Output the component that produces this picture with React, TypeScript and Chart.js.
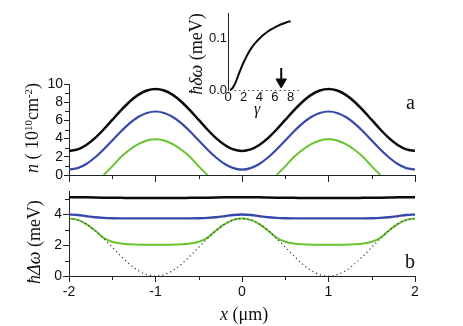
import React, { useEffect, useRef } from "react";
import { Chart, registerables } from "chart.js";

Chart.register(...registerables);

// ---- data ----
const xPositions = [-2.0, -1.9, -1.8, -1.7, -1.6, -1.5, -1.4, -1.3, -1.2, -1.1, -1.0, -0.9, -0.8, -0.7, -0.6, -0.5, -0.4, -0.3, -0.2, -0.1, 0.0, 0.1, 0.2, 0.3, 0.4, 0.5, 0.6, 0.7, 0.8, 0.9, 1.0, 1.1, 1.2, 1.3, 1.4, 1.5, 1.6, 1.7, 1.8, 1.9, 2.0];

// panel a: density n (10^10 cm^-2)
const densityHigh = [2.65, 2.82, 3.30, 4.05, 5.00, 6.05, 7.10, 8.05, 8.80, 9.28, 9.45, 9.28, 8.80, 8.05, 7.10, 6.05, 5.00, 4.05, 3.30, 2.82, 2.65, 2.82, 3.30, 4.05, 5.00, 6.05, 7.10, 8.05, 8.80, 9.28, 9.45, 9.28, 8.80, 8.05, 7.10, 6.05, 5.00, 4.05, 3.30, 2.82, 2.65];
const densityMid = [0.60, 0.76, 1.21, 1.92, 2.80, 3.79, 4.78, 5.67, 6.37, 6.82, 6.98, 6.82, 6.37, 5.67, 4.78, 3.79, 2.80, 1.92, 1.21, 0.76, 0.60, 0.76, 1.21, 1.92, 2.80, 3.79, 4.78, 5.67, 6.37, 6.82, 6.98, 6.82, 6.37, 5.67, 4.78, 3.79, 2.80, 1.92, 1.21, 0.76, 0.60];
const densityLow = [null, null, null, null, 0.0, 0.95, 1.97, 2.78, 3.40, 3.80, 3.93, 3.80, 3.40, 2.78, 1.97, 0.95, 0.0, null, null, null, null, null, null, null, 0.0, 0.95, 1.97, 2.78, 3.40, 3.80, 3.93, 3.80, 3.40, 2.78, 1.97, 0.95, 0.0, null, null, null, null];

// panel b: gap ħΔω (meV)
const gapHigh = [5.10, 5.10, 5.09, 5.08, 5.07, 5.06, 5.06, 5.05, 5.05, 5.05, 5.05, 5.05, 5.05, 5.05, 5.06, 5.06, 5.07, 5.08, 5.09, 5.10, 5.10, 5.10, 5.09, 5.08, 5.07, 5.06, 5.06, 5.05, 5.05, 5.05, 5.05, 5.05, 5.05, 5.05, 5.06, 5.06, 5.07, 5.08, 5.09, 5.10, 5.10];
const gapMid = [3.98, 3.95, 3.87, 3.80, 3.76, 3.74, 3.73, 3.73, 3.73, 3.73, 3.73, 3.73, 3.73, 3.73, 3.73, 3.74, 3.76, 3.80, 3.87, 3.95, 3.98, 3.95, 3.87, 3.80, 3.76, 3.74, 3.73, 3.73, 3.73, 3.73, 3.73, 3.73, 3.73, 3.73, 3.73, 3.74, 3.76, 3.80, 3.87, 3.95, 3.98];
const gapLow = [3.72, 3.63, 3.36, 2.95, 2.47, 2.22, 2.10, 2.05, 2.03, 2.02, 2.02, 2.02, 2.03, 2.05, 2.10, 2.22, 2.47, 2.95, 3.36, 3.63, 3.72, 3.63, 3.36, 2.95, 2.47, 2.22, 2.10, 2.05, 2.03, 2.02, 2.02, 2.02, 2.03, 2.05, 2.10, 2.22, 2.47, 2.95, 3.36, 3.63, 3.72];
const gapBare = [3.72, 3.63, 3.36, 2.95, 2.43, 1.86, 1.29, 0.77, 0.35, 0.09, 0.00, 0.09, 0.35, 0.77, 1.29, 1.86, 2.43, 2.95, 3.36, 3.63, 3.72, 3.63, 3.36, 2.95, 2.43, 1.86, 1.29, 0.77, 0.35, 0.09, 0.00, 0.09, 0.35, 0.77, 1.29, 1.86, 2.43, 2.95, 3.36, 3.63, 3.72];

// inset: ħδω vs γ
const gammaValues = [0.3, 0.6, 1.0, 1.5, 2.0, 2.5, 3.0, 3.5, 4.0, 4.5, 5.0, 5.5, 6.0, 6.5, 7.0, 7.5, 8.0];
const shiftValues = [0.000, 0.004, 0.016, 0.036, 0.054, 0.069, 0.082, 0.092, 0.100, 0.107, 0.113, 0.118, 0.122, 0.126, 0.129, 0.132, 0.134];
const insetGammaTicks = [0, 2, 4, 6, 8];
const insetShiftTicks = [0, 0.1];
const arrowGamma = [6.8, 6.8];
const arrowLevels = [0.043, 0.0195];
const arrowTipGamma = [6.8];
const arrowTipLevel = [0.0156];

// ticks
const xMinorTicks = [-1.5, -0.5, 0.5, 1.5];
const densityMinorTicks = [1, 3, 5, 7, 9];
const gapMinorTicks = [1, 3, 5];

// ---- styles ----
const W = 463;
const H = 326;
const AXIS = "#222";
const SANS = '"Liberation Sans", Arial, Helvetica, sans-serif';
const SERIF = '"Liberation Serif", "Times New Roman", Times, serif';
const BLACK = "#0a0a0a";
const BLUE = "#3848a8";
const GREEN = "#66c430";

const pts = (xs: number[], ys: (number | null)[]) => xs.map((x, i) => ({ x, y: ys[i] }));

function minorTicks(xs: number[], ys: number[], len: number) {
  return {
    id: "minorTicks",
    afterDraw(chart: any) {
      const ctx = chart.ctx;
      const sx = chart.scales.x;
      const sy = chart.scales.y;
      ctx.save();
      ctx.strokeStyle = AXIS;
      ctx.lineWidth = 1;
      for (const v of xs) {
        const px = Math.round(sx.getPixelForValue(v)) + 0.5;
        ctx.beginPath();
        ctx.moveTo(px, sx.top);
        ctx.lineTo(px, sx.top + len);
        ctx.stroke();
      }
      for (const v of ys) {
        const py = Math.round(sy.getPixelForValue(v)) + 0.5;
        ctx.beginPath();
        ctx.moveTo(sy.right, py);
        ctx.lineTo(sy.right - len, py);
        ctx.stroke();
      }
      ctx.restore();
    },
  };
}

// dotted γ axis and the ħδω tick labels of the inset, placed through the inset's scales
const insetAxis = {
  id: "insetAxis",
  afterDraw(chart: any) {
    const ctx = chart.ctx;
    const sx = chart.scales.x;
    const sy = chart.scales.y;
    ctx.save();
    ctx.strokeStyle = "#444";
    ctx.lineWidth = 1;
    ctx.setLineDash([1.5, 3]);
    const y = Math.round(sy.getPixelForValue(0)) + 0.5;
    ctx.beginPath();
    ctx.moveTo(sx.left + 2, y);
    ctx.lineTo(sx.right, y);
    ctx.stroke();
    ctx.setLineDash([]);
    ctx.fillStyle = "#111";
    ctx.font = "13px " + SANS;
    ctx.textAlign = "right";
    ctx.textBaseline = "middle";
    for (const v of insetShiftTicks) {
      ctx.fillText(v.toFixed(1), sy.right - 1, sy.getPixelForValue(v));
    }
    ctx.restore();
  },
};

const lineDs = (data: any, color: string, width: number, extra: any = {}) => ({
  data,
  borderColor: color,
  backgroundColor: color,
  borderWidth: width,
  pointRadius: 0,
  fill: false,
  cubicInterpolationMode: "monotone",
  spanGaps: false,
  ...extra,
});

const common = () => ({
  responsive: false,
  maintainAspectRatio: false,
  animation: false,
  events: [],
  plugins: { legend: { display: false }, tooltip: { enabled: false }, title: { display: false } },
});

function makeTop(canvas: HTMLCanvasElement) {
  return new Chart(canvas, {
    type: "line",
    data: {
      datasets: [
        lineDs(pts(xPositions, densityLow), GREEN, 2),
        lineDs(pts(xPositions, densityMid), BLUE, 2.2),
        lineDs(pts(xPositions, densityHigh), BLACK, 2.5),
      ],
    },
    options: {
      ...common(),
      layout: { padding: { left: 0, top: 84, right: 48, bottom: H - 175 - 11 } },
      scales: {
        x: {
          type: "linear",
          min: -2,
          max: 2,
          ticks: { stepSize: 1, display: false },
          grid: { drawOnChartArea: false, drawTicks: true, tickLength: 7, color: AXIS },
          border: { display: true, color: AXIS, width: 1 },
          afterFit: (s: any) => { s.height = 11; },
        },
        y: {
          type: "linear",
          min: 0,
          max: 10,
          ticks: { stepSize: 2, autoSkip: false, padding: 1, color: "#111", font: { family: SANS, size: 14 } },
          grid: { drawOnChartArea: false, drawTicks: true, tickLength: 5, color: AXIS },
          border: { display: true, color: AXIS, width: 1 },
          afterFit: (s: any) => { s.width = 69; },
        },
      },
    } as any,
    plugins: [minorTicks(xMinorTicks, densityMinorTicks, 4)],
  } as any);
}

function makeBottom(canvas: HTMLCanvasElement) {
  return new Chart(canvas, {
    type: "line",
    data: {
      datasets: [
        lineDs(pts(xPositions, gapBare), "#333", 1.2, { borderDash: [1.2, 3] }),
        lineDs(pts(xPositions, gapLow), GREEN, 2),
        lineDs(pts(xPositions, gapMid), BLUE, 2.4),
        lineDs(pts(xPositions, gapHigh), BLACK, 2.5),
      ],
    },
    options: {
      ...common(),
      layout: { padding: { left: 0, top: 191, right: 48, bottom: 0 } },
      scales: {
        x: {
          type: "linear",
          min: -2,
          max: 2,
          ticks: { stepSize: 1, autoSkip: false, padding: 2, maxRotation: 0, color: "#111", font: { family: SANS, size: 14 } },
          grid: { drawOnChartArea: false, drawTicks: true, tickLength: 6, color: AXIS },
          border: { display: true, color: AXIS, width: 1 },
          afterFit: (s: any) => { s.height = 50; },
        },
        y: {
          type: "linear",
          min: 0,
          max: 5.5,
          ticks: { stepSize: 2, autoSkip: false, includeBounds: false, padding: 1, color: "#111", font: { family: SANS, size: 14 } },
          grid: { drawOnChartArea: false, drawTicks: true, tickLength: 6, color: AXIS },
          border: { display: true, color: AXIS, width: 1 },
          afterFit: (s: any) => { s.width = 69; },
        },
      },
    } as any,
    plugins: [minorTicks(xMinorTicks, gapMinorTicks, 4)],
  } as any);
}

function makeInset(canvas: HTMLCanvasElement) {
  return new Chart(canvas, {
    type: "line",
    data: {
      datasets: [
        lineDs(pts(arrowTipGamma, arrowTipLevel), BLACK, 1, {
          showLine: false,
          pointRadius: 6,
          pointStyle: "triangle",
          pointRotation: 180,
          pointBackgroundColor: BLACK,
          pointBorderColor: BLACK,
          pointBorderWidth: 1,
        }),
        lineDs(pts(arrowGamma, arrowLevels), BLACK, 2, { cubicInterpolationMode: "default", tension: 0 }),
        lineDs(pts(gammaValues, shiftValues), BLACK, 2),
      ],
    },
    options: {
      ...common(),
      layout: { padding: { left: 190, top: 13, right: W - 300, bottom: H - 90 - 25 } },
      scales: {
        x: {
          type: "linear",
          min: 0,
          max: 9.2,
          afterBuildTicks: (s: any) => { s.ticks = insetGammaTicks.map((value) => ({ value })); },
          ticks: { autoSkip: false, padding: 0, maxRotation: 0, color: "#111", font: { family: SANS, size: 13 } },
          grid: { display: false, drawTicks: false, drawOnChartArea: false },
          border: { display: false },
          afterFit: (s: any) => { s.height = 25; },
        },
        y: {
          type: "linear",
          min: 0,
          max: 0.15,
          afterBuildTicks: (s: any) => { s.ticks = insetShiftTicks.map((value) => ({ value })); },
          ticks: { display: false },
          grid: { display: false, drawTicks: false, drawOnChartArea: false },
          border: { display: true, color: AXIS, width: 1 },
          afterFit: (s: any) => { s.width = 38; },
        },
      },
    } as any,
    plugins: [insetAxis],
  } as any);
}

const abs: React.CSSProperties = { position: "absolute", left: 0, top: 0 };

const sup = (t: string) => (
  <span style={{ fontSize: "0.6em", position: "relative", top: "-0.55em", lineHeight: 0 }}>{t}</span>
);

function Rotated({ cx, cy, size, len, children }: { cx: number; cy: number; size: number; len: number; children: any }) {
  return (
    <div
      style={{
        position: "absolute",
        left: cx - len / 2,
        top: cy - size / 2,
        width: len,
        height: size,
        lineHeight: size + "px",
        fontSize: size,
        fontFamily: SERIF,
        textAlign: "center",
        whiteSpace: "nowrap",
        transform: "rotate(-90deg)",
        color: "#111",
        pointerEvents: "none",
      }}
    >
      {children}
    </div>
  );
}

function Label({ left, right, top, size, children }: any) {
  return (
    <div
      style={{
        position: "absolute",
        left,
        right,
        top,
        fontSize: size,
        lineHeight: size + "px",
        height: size,
        fontFamily: SERIF,
        whiteSpace: "nowrap",
        color: "#111",
        pointerEvents: "none",
      }}
    >
      {children}
    </div>
  );
}

export default function App() {
  const topRef = useRef<HTMLCanvasElement>(null);
  const botRef = useRef<HTMLCanvasElement>(null);
  const insetRef = useRef<HTMLCanvasElement>(null);

  useEffect(() => {
    const charts = [makeInset(insetRef.current!), makeTop(topRef.current!), makeBottom(botRef.current!)];
    return () => charts.forEach((c) => c.destroy());
  }, []);

  return (
    <div style={{ position: "fixed", left: 0, top: 0, width: W, height: H, background: "#fff", overflow: "hidden" }}>
      <canvas ref={topRef} width={W} height={H} style={abs} />
      <canvas ref={botRef} width={W} height={H} style={abs} />

      <Rotated cx={32} cy={128} size={18} len={110}>
        <i>n</i> ( 10{sup("10")}cm{sup("-2")})
      </Rotated>
      <Rotated cx={34} cy={242} size={18} len={100}>
        <i>ħΔω</i> (meV)
      </Rotated>
      <Rotated cx={196} cy={54} size={18} len={100}>
        <i>ħδω</i> (meV)
      </Rotated>

      <Label left={220} top={305} size={18}>
        <i>x</i> (μm)
      </Label>
      <Label left={254} top={101} size={16}>
        <i>γ</i>
      </Label>
      <Label right={48} top={92} size={20}>
        a
      </Label>
      <Label right={48} top={251} size={20}>
        b
      </Label>

      <canvas ref={insetRef} width={W} height={H} style={abs} />
    </div>
  );
}
